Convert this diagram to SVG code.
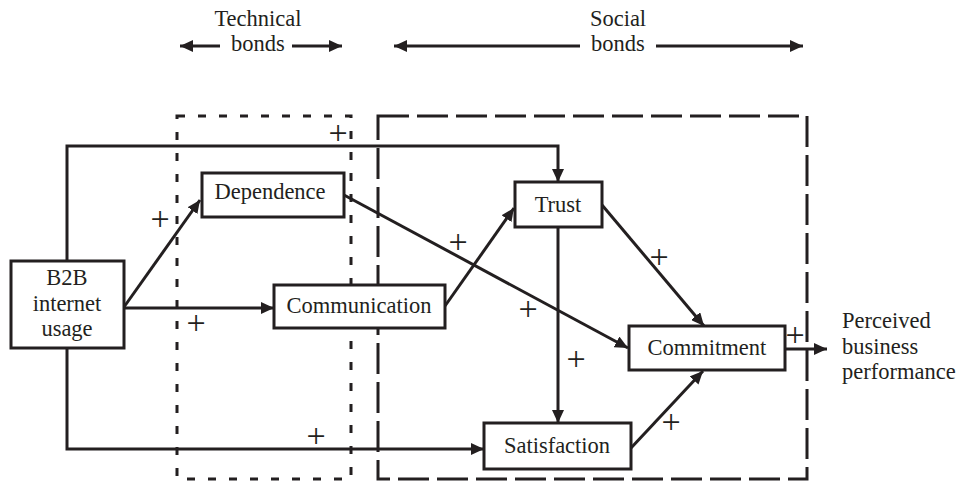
<svg xmlns="http://www.w3.org/2000/svg" width="960" height="481" viewBox="0 0 960 481" font-family="'Liberation Serif', 'DejaVu Serif', serif">
<defs>
<style>
text{font-family:'Liberation Serif','DejaVu Serif',serif;font-size:22.5px;fill:#231f20}
.c{text-anchor:middle}
.p{font-size:34px;text-anchor:middle}
.box{fill:#fff;stroke:#231f20;stroke-width:3}
.ln{fill:none;stroke:#231f20;stroke-width:3}
.tech{fill:none;stroke:#231f20;stroke-width:3;stroke-dasharray:8 13}
.soc{fill:none;stroke:#231f20;stroke-width:3;stroke-dasharray:31 8}
</style>
<marker id="ah" markerUnits="userSpaceOnUse" markerWidth="13" markerHeight="12" refX="13" refY="6" orient="auto">
<path d="M0,0 L13,6 L0,12 z" fill="#231f20"/>
</marker>
</defs>
<rect width="960" height="481" fill="#fff"/>

<g id="headers">
<text class="c" x="258" y="26">Technical</text>
<text class="c" x="258" y="51">bonds</text>
<text class="c" x="618" y="26">Social</text>
<text class="c" x="618" y="51">bonds</text>
<path class="ln" d="M220,46 H180" marker-end="url(#ah)"/>
<path class="ln" d="M292,46 H342" marker-end="url(#ah)"/>
<path class="ln" d="M580,46 H394" marker-end="url(#ah)"/>
<path class="ln" d="M656,46 H803" marker-end="url(#ah)"/>
</g>

<g id="regions">
<rect class="tech" x="177" y="116" width="174" height="363"/>
<rect class="soc" x="378" y="116" width="429" height="363"/>
</g>

<g id="connectors">
<path class="ln" d="M67,261 V146 H558 V182" marker-end="url(#ah)"/>
<path class="ln" d="M67,348 V449 H484" marker-end="url(#ah)"/>
<path class="ln" d="M124,308 H274" marker-end="url(#ah)"/>
<path class="ln" d="M124,307 L200,200" marker-end="url(#ah)"/>
<path class="ln" d="M344,195 L628,348" marker-end="url(#ah)"/>
<path class="ln" d="M445,306 L514,208" marker-end="url(#ah)"/>
<path class="ln" d="M602,205 L704,326" marker-end="url(#ah)"/>
<path class="ln" d="M558,227 V423" marker-end="url(#ah)"/>
<path class="ln" d="M631,448 L703,371" marker-end="url(#ah)"/>
<path class="ln" d="M785,349 H827" marker-end="url(#ah)"/>
</g>

<g id="b2b">
<rect class="box" x="11" y="261" width="113" height="87"/>
<text class="c" x="67" y="285">B2B</text>
<text class="c" x="67" y="311">internet</text>
<text class="c" x="67" y="336">usage</text>
</g>
<g id="dependence">
<rect class="box" x="202" y="173" width="142" height="44"/>
<text class="c" x="270" y="199">Dependence</text>
</g>
<g id="communication">
<rect class="box" x="274" y="285" width="171" height="43"/>
<text class="c" x="359" y="313">Communication</text>
</g>
<g id="trust">
<rect class="box" x="515" y="182" width="87" height="45"/>
<text class="c" x="558" y="212">Trust</text>
</g>
<g id="commitment">
<rect class="box" x="629" y="326" width="156" height="44"/>
<text class="c" x="707" y="355">Commitment</text>
</g>
<g id="satisfaction">
<rect class="box" x="484" y="423" width="147" height="46"/>
<text class="c" x="557" y="453">Satisfaction</text>
</g>
<g id="performance">
<text x="842" y="328">Perceived</text>
<text x="842" y="354">business</text>
<text x="842" y="379">performance</text>
</g>

<g id="signs">
<text class="p" x="338" y="144">+</text>
<text class="p" x="160" y="230">+</text>
<text class="p" x="196" y="334">+</text>
<text class="p" x="316" y="447">+</text>
<text class="p" x="458" y="253">+</text>
<text class="p" x="528" y="320">+</text>
<text class="p" x="659" y="268">+</text>
<text class="p" x="576" y="370">+</text>
<text class="p" x="671" y="433">+</text>
<text class="p" x="795" y="346">+</text>
</g>
</svg>
